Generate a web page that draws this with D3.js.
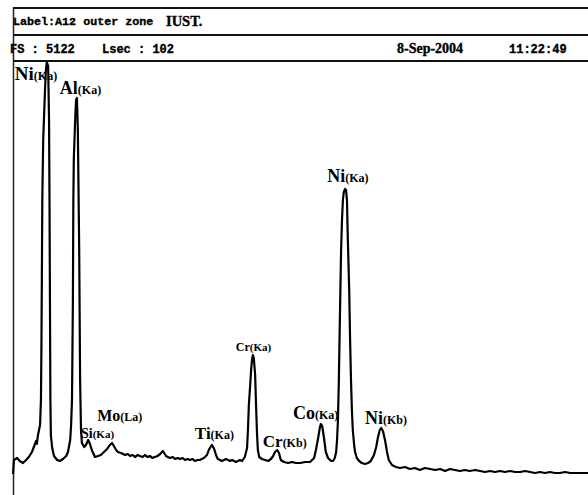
<!DOCTYPE html>
<html><head><meta charset="utf-8">
<script src="https://cdn.jsdelivr.net/npm/d3@7"></script>
<style>body{margin:0;background:#fff}svg{display:block}</style>
</head><body>
<script>
// ---- data ----
const energy = [0.09,0.11,0.18,0.24,0.31,0.38,0.44,0.51,0.56,0.60,0.62,0.64,0.69,0.71,0.72,0.73,0.74,0.76,0.80,0.82,0.84,0.87,0.89,0.90,0.91,0.92,0.93,0.96,1.00,1.07,1.13,1.20,1.27,1.31,1.36,1.38,1.40,1.42,1.43,1.44,1.47,1.49,1.51,1.53,1.56,1.58,1.60,1.62,1.67,1.71,1.76,1.80,1.84,1.91,1.98,2.04,2.11,2.18,2.24,2.29,2.33,2.38,2.42,2.49,2.58,2.64,2.69,2.75,2.80,2.86,2.91,2.97,3.02,3.08,3.13,3.19,3.24,3.30,3.36,3.42,3.49,3.53,3.58,3.64,3.69,3.75,3.80,3.86,3.91,3.97,4.02,4.08,4.13,4.19,4.24,4.33,4.40,4.44,4.49,4.51,4.56,4.60,4.64,4.69,4.73,4.78,4.82,4.87,4.91,4.96,5.00,5.04,5.09,5.13,5.18,5.24,5.29,5.31,5.33,5.36,5.38,5.40,5.42,5.44,5.47,5.49,5.51,5.53,5.56,5.62,5.69,5.76,5.82,5.87,5.91,5.96,6.00,6.04,6.11,6.20,6.29,6.38,6.47,6.58,6.69,6.78,6.82,6.87,6.91,6.93,6.96,7.00,7.04,7.09,7.16,7.20,7.24,7.27,7.29,7.31,7.33,7.36,7.38,7.40,7.42,7.44,7.47,7.49,7.51,7.53,7.56,7.58,7.60,7.62,7.64,7.67,7.69,7.73,7.78,7.84,7.91,7.98,8.04,8.11,8.16,8.20,8.24,8.27,8.31,8.36,8.40,8.44,8.51,8.60,8.69,8.80,8.91,9.02,9.13,9.24,9.36,9.47,9.58,9.69,9.80,9.91,10.02,10.13,10.24,10.36,10.47,10.58,10.69,10.80,10.91,11.02,11.13,11.25,11.36,11.47,11.58,11.69,11.80,11.91,12.02,12.13,12.24,12.36,12.47,12.58,12.69,12.87];
const counts = [252,420,444,408,384,420,456,516,588,648,612,708,840,1140,1740,2580,3540,4260,4860,5100,5196,5148,4500,3540,2340,1140,720,564,468,420,408,432,468,516,660,840,1140,2340,3540,4020,4500,4740,4764,4380,2940,1380,780,624,576,600,660,612,540,456,468,480,516,552,600,624,588,540,516,504,480,492,468,480,456,480,468,456,480,456,468,444,456,468,492,528,468,456,444,456,432,444,432,444,420,432,420,432,408,420,420,444,480,540,588,600,552,480,432,420,408,420,432,420,408,420,408,396,408,420,408,456,564,780,1080,1320,1500,1620,1680,1644,1440,1080,756,540,456,432,420,408,432,468,516,540,504,420,396,384,396,384,384,396,396,444,540,684,816,852,828,684,516,444,408,408,444,516,660,900,1380,2340,2940,3300,3540,3636,3672,3660,3540,3060,2460,1860,1380,1020,780,600,516,444,408,384,372,384,408,480,576,696,780,804,768,648,516,420,360,336,324,336,312,324,300,324,312,300,312,288,312,300,288,300,288,300,288,276,288,276,288,276,288,276,276,288,276,264,276,264,276,264,264,276,264,264,264,264];

const labelElem  = ["Ni","Al","Si","Mo","Ti","Cr","Cr","Co","Ni","Ni"];
const labelLine  = ["(Ka)","(Ka)","(Ka)","(La)","(Ka)","(Ka)","(Kb)","(Ka)","(Ka)","(Kb)"];
const labelE     = [0.13,1.13,1.60,1.96,4.13,5.04,5.64,6.31,7.07,7.91];
const labelCount = [4980,4812,684,888,672,1728,576,912,3756,852];

const headerTitle = ["Label:A12 outer zone", "IUST."];
const headerInfo  = ["FS : 5122", "Lsec : 102"];
const headerDate  = ["8-Sep-2004", "11:22:49"];

// ---- styles ----
const W = 588, H = 495;
const bigSize = [19,18,14,16,17,12,17,18,18,18];
const smallSize = [12,12,11,12,12,11,12,12,12,12];

const svg = d3.select("body").append("svg").attr("width", W).attr("height", H);

const x = d3.scaleLinear().domain([0, 12.8]).range([9, 585]);
const y = d3.scaleLinear().domain([0, 5220]).range([495, 60]);

// frame lines
const hl = [8, 35, 61];
svg.selectAll("line.h").data(hl).join("line")
  .attr("x1", 13).attr("x2", W).attr("y1", d => d).attr("y2", d => d)
  .attr("stroke", "#111").attr("stroke-width", 2);
svg.append("line").attr("x1", 13.5).attr("x2", 13.5).attr("y1", 7).attr("y2", H)
  .attr("stroke", "#222").attr("stroke-width", 1.5);

// header text
const mono = "'Liberation Mono','DejaVu Sans Mono',monospace";
const serif = "'Liberation Serif','DejaVu Serif',serif";
function hText(tx, ty, fam, size, s) {
  svg.append("text").attr("x", tx).attr("y", ty).attr("font-family", fam).attr("font-weight", "bold")
    .attr("font-size", size).attr("stroke", "#000").attr("stroke-width", 0.35).text(s);
}
hText(13, 25, mono, 11.7, headerTitle[0]);
hText(166, 26, serif, 14.5, headerTitle[1]);
hText(10, 53, mono, 12, headerInfo[0]);
hText(102, 53, mono, 12, headerInfo[1]);
hText(397, 53, serif, 14, headerDate[0]);
hText(509, 53, mono, 12, headerDate[1]);

// spectrum
const pts = energy.map((e, i) => [e, counts[i]]);
svg.append("path").datum(pts)
  .attr("d", d3.line().x(d => x(d[0])).y(d => y(d[1])))
  .attr("fill", "none").attr("stroke", "#000").attr("stroke-width", 2.2)
  .attr("stroke-linejoin", "round");

// peak labels
labelElem.forEach((el, i) => {
  const t = svg.append("text").attr("x", x(labelE[i])).attr("y", y(labelCount[i]))
    .attr("font-family", serif).attr("font-weight", "bold").attr("fill", "#000");
  t.append("tspan").attr("font-size", bigSize[i]).text(el);
  t.append("tspan").attr("font-size", smallSize[i]).text(labelLine[i]);
});
</script>
</body></html>
